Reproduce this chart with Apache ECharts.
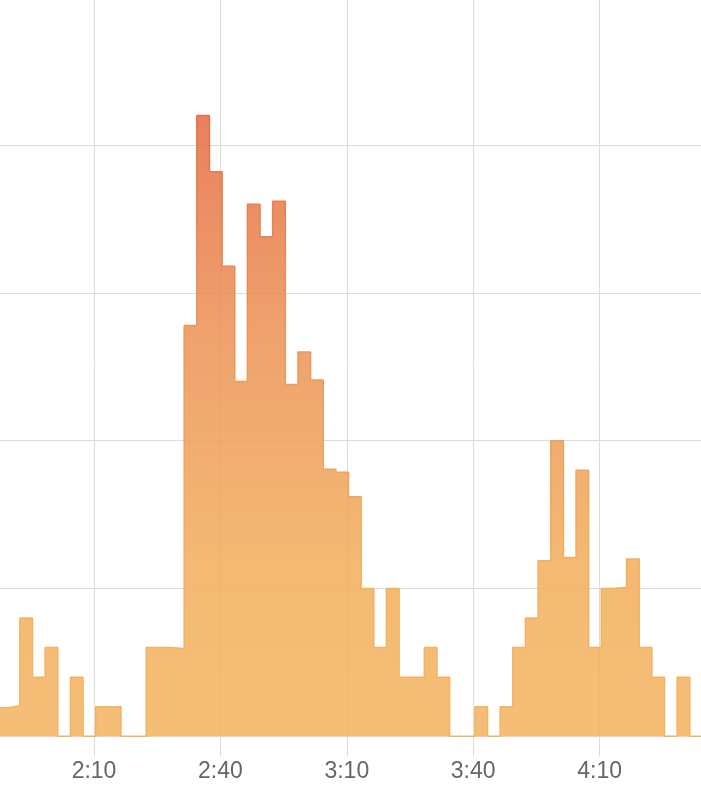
<!DOCTYPE html>
<html>
<head>
<meta charset="utf-8">
<script src="https://cdn.jsdelivr.net/npm/echarts@6/dist/echarts.min.js"></script>
<style>
  html, body { margin: 0; padding: 0; background: #ffffff; }
  #chart { width: 701px; height: 800px; }
</style>
</head>
<body>
<div id="chart"></div>
<script>
// Bin start times in minutes (3-minute bins)
const binStarts = [106.4, 109.4, 112.4, 115.4, 118.4, 121.4, 124.4, 127.4, 130.4, 133.4,
  136.4, 139.4, 142.4, 145.4, 148.4, 151.4, 154.4, 157.4, 160.4, 163.4,
  166.4, 169.4, 172.4, 175.4, 178.4, 181.4, 184.4, 187.4, 190.4, 193.4,
  196.4, 199.4, 202.4, 205.4, 208.4, 211.4, 214.4, 217.4, 220.4, 223.4,
  226.4, 229.4, 232.4, 235.4, 238.4, 241.4, 244.4, 247.4, 250.4, 253.4,
  256.4, 259.4, 262.4, 265.4, 268.4, 271.4];
const lastBinEnd = 274.4;
// Counts per bin
const counts = [0.97, 1.03, 4, 2, 3, 0, 2, 0, 1, 1,
  0, 0, 3, 3, 2.96, 13.9, 21, 19.1, 15.9, 12,
  18, 16.9, 18.1, 11.9, 13, 12.05, 9.03, 8.93, 8.1, 5,
  3, 5, 2, 2, 3, 2, 0, 0, 1, 0,
  1, 3, 4, 5.94, 10, 6.05, 9, 3, 5, 5.04,
  6, 3, 2, 0, 2, 0];
// Tick positions (minutes) and labels
const tickValues = [130, 160, 190, 220, 250];
const tickLabels = ['2:10', '2:40', '3:10', '3:40', '4:10'];

const stepData = binStarts.map((s, i) => [s, counts[i]]);
stepData.push([lastBinEnd, counts[counts.length - 1]]);

function grad() {
  return {
    type: 'linear', x: 0, y: 0, x2: 0, y2: 737, global: true,
    colorStops: [
      { offset: 0.14, color: '#e66c45' },
      { offset: 0.45, color: '#ec9459' },
      { offset: 0.78, color: '#f2b05f' },
      { offset: 1, color: '#f3b462' }
    ]
  };
}

const chart = echarts.init(document.getElementById('chart'), null, { renderer: 'canvas' });
chart.setOption({
  animation: false,
  grid: { left: -74.5, width: 800.5, top: -2.7, height: 739, containLabel: false, outerBoundsMode: 'none' },
  xAxis: {
    type: 'value',
    min: 90, max: 280,
    axisLine: { show: false },
    axisTick: { show: true, length: 20, customValues: tickValues, lineStyle: { color: '#dcdcdc', width: 1 } },
    splitLine: { show: true, lineStyle: { color: '#dcdcdc', width: 1 } },
    axisLabel: {
      show: true,
      customValues: tickValues,
      margin: 24,
      color: '#666666',
      fontSize: 23,
      hideOverlap: false,
      fontFamily: 'Liberation Sans, Arial, Helvetica, sans-serif',
      formatter: function (v) {
        const i = tickValues.indexOf(v);
        return i >= 0 ? tickLabels[i] : '';
      }
    }
  },
  yAxis: {
    type: 'value',
    min: 0, max: 25, interval: 5,
    axisLine: { show: false },
    axisTick: { show: false },
    axisLabel: { show: false },
    splitLine: { show: true, lineStyle: { color: '#dcdcdc', width: 1 } }
  },
  series: [{
    type: 'line',
    step: 'end',
    data: stepData,
    symbol: 'none',
    lineStyle: { width: 1.5, color: grad() },
    areaStyle: { color: grad(), opacity: 0.88 },
    clip: true
  }]
});
</script>
</body>
</html>
